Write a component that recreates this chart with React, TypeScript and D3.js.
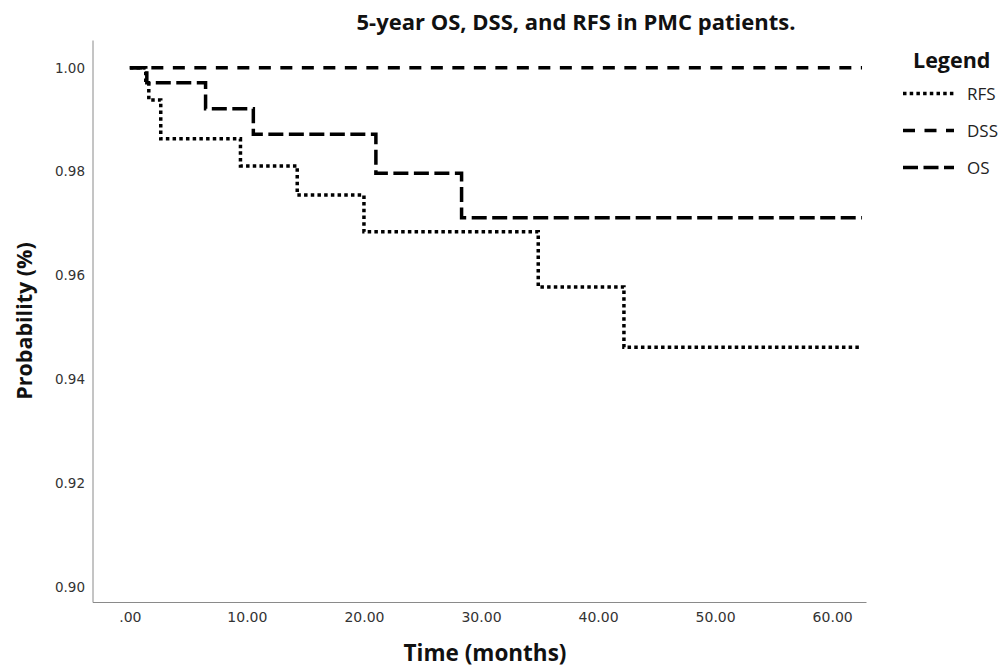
import React, { useRef, useEffect } from 'react'
import * as d3 from 'd3'

// Kaplan-Meier step values (months, survival probability)
const osTime = [0, 1.45, 6.47, 10.55, 21.02, 28.34, 62.55]
const osSurv = [1.0, 0.9971, 0.9921, 0.9872, 0.9797, 0.9711, 0.9711]

const dssTime = [0, 62.55]
const dssSurv = [1.0, 1.0]

const rfsTime = [0, 1.36, 1.62, 2.64, 9.45, 14.3, 20.0, 34.89, 42.21, 62.55]
const rfsSurv = [1.0, 0.9969, 0.9938, 0.9863, 0.9811, 0.9755, 0.9684, 0.9578, 0.9462, 0.9462]

const xTicks = [0, 10, 20, 30, 40, 50, 60]
const yTicks = [0.9, 0.92, 0.94, 0.96, 0.98, 1.0]

const legendNames = ['RFS', 'DSS', 'OS']
const dashes: Record<string, string> = {
  RFS: '3.5,3.2',
  DSS: '12,9.5',
  OS: '15,5.5',
}

const W = 1001
const H = 669
const plot = { left: 92.5, right: 866, top: 40, bottom: 602 }

const App = () => {
  const xAxisRef = useRef<SVGGElement>(null)
  const yAxisRef = useRef<SVGGElement>(null)

  const xScale = d3.scaleLinear()
    .domain([-3.19, 62.89])
    .range([plot.left, plot.right])

  const yScale = d3.scaleLinear()
    .domain([0.89715, 1.00533])
    .range([plot.bottom, plot.top])

  const stepLine = d3.line<[number, number]>()
    .x(d => xScale(d[0]))
    .y(d => yScale(d[1]))
    .curve(d3.curveStepAfter)

  const series = [
    { name: 'RFS', pts: rfsTime.map((t, i) => [t, rfsSurv[i]] as [number, number]) },
    { name: 'DSS', pts: dssTime.map((t, i) => [t, dssSurv[i]] as [number, number]) },
    { name: 'OS', pts: osTime.map((t, i) => [t, osSurv[i]] as [number, number]) },
  ]

  useEffect(() => {
    const xAxis = d3.axisBottom(xScale)
      .tickValues(xTicks)
      .tickSize(0)
      .tickSizeOuter(0)
      .tickPadding(9.8)
      .tickFormat(d => (+d === 0 ? '.00' : (+d).toFixed(2)))
    const gx = d3.select(xAxisRef.current!)
    gx.selectAll('*').remove()
    gx.call(xAxis)
    gx.select('.domain').attr('stroke', '#8a8a8a')
    gx.selectAll('text')
      .attr('fill', '#333')
      .style('font-family', '"DejaVu Sans", sans-serif')
      .style('font-size', '14px')

    const yAxis = d3.axisLeft(yScale)
      .tickValues(yTicks)
      .tickSize(0)
      .tickSizeOuter(0)
      .tickPadding(7.5)
      .tickFormat(d3.format('.2f'))
    const gy = d3.select(yAxisRef.current!)
    gy.selectAll('*').remove()
    gy.call(yAxis)
    gy.select('.domain').attr('stroke', '#8a8a8a')
    gy.selectAll('text')
      .attr('fill', '#333')
      .style('font-family', '"DejaVu Sans", sans-serif')
      .style('font-size', '13.5px')
  }, [])

  const font = '"Open Sans", "Noto Sans", sans-serif'

  return (
    <div style={{ position: 'absolute', left: 0, top: 0 }}>
      <svg width={W} height={H} style={{ display: 'block', background: 'white' }}>
        <text x={576} y={30} textAnchor='middle' fontFamily={font}
          fontWeight='bold' fontSize={22} fill='#111'>
          5-year OS, DSS, and RFS in PMC patients.
        </text>

        {series.map(s => (
          <path key={s.name} d={stepLine(s.pts) || ''} fill='none' stroke='#000'
            strokeWidth={3.5} strokeDasharray={dashes[s.name]} />
        ))}

        <g ref={xAxisRef} transform={`translate(0,${plot.bottom})`} />
        <g ref={yAxisRef} transform={`translate(${plot.left},0)`} />

        <text x={485} y={661} textAnchor='middle' fontFamily={font}
          fontWeight='bold' fontSize={22.5} fill='#111'>
          Time (months)
        </text>
        <text transform='translate(31.5,321) rotate(-90)' textAnchor='middle'
          fontFamily={font} fontWeight='bold' fontSize={21.5} fill='#111'>
          Probability (%)
        </text>

        <text x={913} y={68} fontFamily={font} fontWeight='bold' fontSize={21.5} fill='#111'>
          Legend
        </text>
        {legendNames.map((n, i) => (
          <g key={n} transform={`translate(0,${93.5 + i * 37})`}>
            <line x1={903} x2={954} y1={0} y2={0} stroke='#000' strokeWidth={3.5}
              strokeDasharray={dashes[n]} />
            <text x={967} y={6.5} fontFamily={font} fontSize={17} fill='#222'>{n}</text>
          </g>
        ))}
      </svg>
    </div>
  )
}

export default App
